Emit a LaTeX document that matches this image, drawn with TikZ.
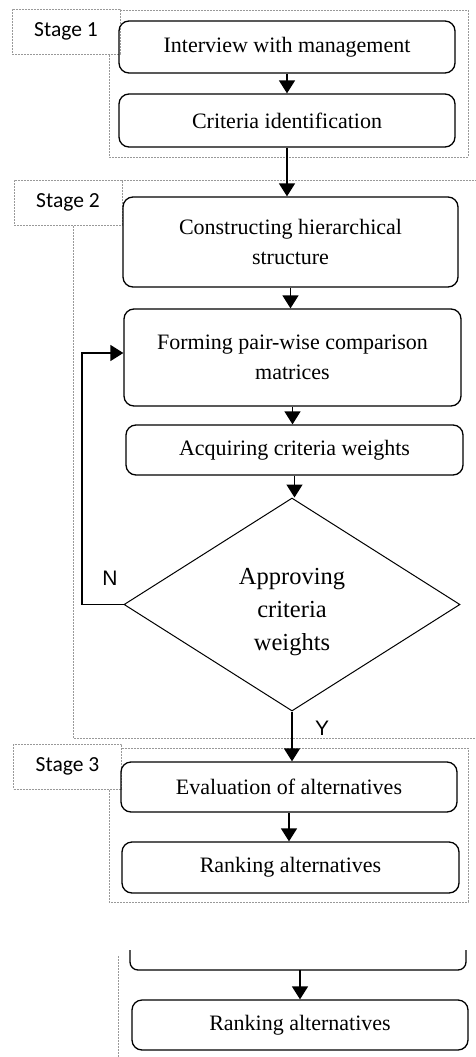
\documentclass[tikz,border=0pt]{standalone}
\usepackage{fontspec}
\setmainfont{Liberation Serif}
\newfontfamily\stagefont{Carlito}
\newfontfamily\yesnofont{Liberation Sans}
\usetikzlibrary{arrows.meta,shapes.geometric}

\begin{document}
\begin{tikzpicture}[
    x=1pt, y=-1pt,
    >={Triangle[length=13pt,width=16pt]},
    stepbox/.style={
        draw, line width=1.3pt, rounded corners=10pt,
        align=center, inner sep=0pt,
        minimum width=336pt,
        font=\fontsize{22}{30}\selectfont
    },
    decision/.style={
        draw, diamond, line width=1pt, inner sep=0pt,
        minimum width=336pt, minimum height=213pt
    },
    decisiontext/.style={
        align=center, inner sep=0pt,
        font=\fontsize{24.5}{33}\selectfont
    },
    flow/.style={->, line width=1.5pt},
    group/.style={
        draw=gray!80, line width=0.6pt,
        dash pattern=on 2pt off 1pt
    },
    stagelabel/.style={
        group, fill=white, inner sep=0pt,
        minimum width=108pt, minimum height=45pt,
        font=\stagefont\fontsize{21.5}{24}\selectfont
    },
    yesno/.style={font=\yesnofont\fontsize{21}{24}\selectfont}
]

    \useasboundingbox (0,0) rectangle (476,1057);

    % Stages
    \draw[group] (109,10) rectangle (468,157);
    \draw[group] (480,180) -- (73,180) -- (73,738) -- (480,738);
    \draw[group] (109,748) rectangle (468,902);

    \node[stagelabel] (stage1) at (66,31.5) {Stage 1};
    \node[stagelabel] (stage2) at (68,202.5) {Stage 2};
    \node[stagelabel] (stage3) at (67.5,766.5) {Stage 3};

    % Steps
    \node[stepbox, minimum height=52pt] (interview) at (287,47)
        {Interview with management};
    \node[stepbox, minimum height=53pt] (criteria) at (287,120.5)
        {Criteria identification};
    \node[stepbox, minimum width=335pt, minimum height=90pt] (hierarchy) at (290.5,242)
        {Constructing hierarchical\\structure};
    \node[stepbox, minimum width=337pt, minimum height=97pt] (pairwise) at (292.5,357.5)
        {Forming pair-wise comparison\\matrices};
    \node[stepbox, minimum width=337pt, minimum height=50pt] (weights) at (294.5,450)
        {Acquiring criteria weights};
    \node[decision] (approve) at (292,604.5) {};
    \node[decisiontext] (approvetext) at (292,612)
        {Approving\\criteria\\weights};
    \node[stepbox, minimum height=50pt] (evaluation) at (289,787)
        {Evaluation of alternatives};
    \node[stepbox, minimum width=337pt, minimum height=51pt] (ranking) at (290.5,867.5)
        {Ranking alternatives};

    % Lower copy
    \draw[group] (118,956) -- (118,1057);
    \draw[
        line width=1.3pt,
        rounded corners=8pt
    ] (130,950) -- (130,970) -- (466,970) -- (466,950);
    \coordinate (cutbottom) at (300,970);
    \node[stepbox, minimum height=50pt] (rankingcopy) at (300,1025)
        {Ranking alternatives};

    % Arrows
    \draw[flow] (interview.south) -- (criteria.north);
    \draw[flow] (criteria.south) -- (criteria.south |- hierarchy.north);
    \draw[flow] (hierarchy.south) -- (hierarchy.south |- pairwise.north);
    \draw[flow] (pairwise.south) -- (pairwise.south |- weights.north);
    \draw[flow] (weights.south) -- (weights.south |- approve.north);
    \draw[flow] (approve.south) -- (approve.south |- evaluation.north);
    \draw[flow] (evaluation.south) -- (evaluation.south |- ranking.north);
    \draw[flow] (cutbottom) -- (cutbottom |- rankingcopy.north);

    % Feedback
    \coordinate (loop) at (82,604.5);
    \draw[flow] (approve.west) -- (loop) |- ([yshift=4.5pt]pairwise.west);

    \node[yesno] (no) at (110,578) {N};
    \node[yesno] (yes) at (322,728) {Y};

\end{tikzpicture}
\end{document}
